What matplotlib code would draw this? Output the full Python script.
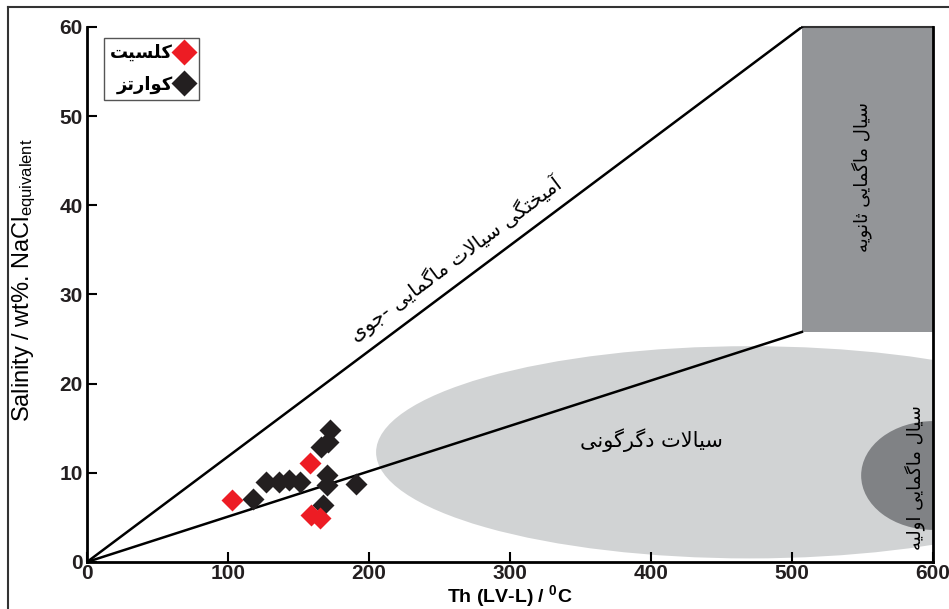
# -*- coding: utf-8 -*-
"""
fluid inclusion diagram: salinity vs homogenisation temperature
"""
import matplotlib
matplotlib.use('Agg')
import matplotlib.pyplot as plt
from matplotlib.patches import Rectangle, Ellipse
from matplotlib.lines import Line2D

plt.rcParams['font.family'] = ['Liberation Sans', 'DejaVu Sans']

# data
calcite_th = [103, 158, 159, 165]
calcite_sal = [7.0, 11.1, 5.3, 4.9]
quartz_th = [118, 127, 136, 143, 151, 166, 171, 172, 170, 170, 191, 167]
quartz_sal = [7.1, 9.0, 9.0, 9.2, 9.0, 12.9, 13.5, 14.8, 9.8, 8.6, 8.8, 6.4]

x_ticks = [0, 100, 200, 300, 400, 500, 600]
y_ticks = [0, 10, 20, 30, 40, 50, 60]

# field boundaries
upper_line = ([0, 507], [0, 60])
lower_line = ([0, 507], [0, 25.8])
secondary_box = (507, 25.8, 93, 34.2)          # x, y, width, height
metamorphic_field = (470, 12.3, 530, 23.8)     # centre x, centre y, width, height
primary_field = (600, 9.7, 102, 12.2)

label_calcite = 'کلسیت'
label_quartz = 'کوارتز'
label_mixing = 'آمیختگی سیالات ماگمایی -جوی'
label_meta = 'سیالات دگرگونی'
label_secondary = 'سیال ماگمایی ثانویه'
label_primary = 'سیال ماگمایی اولیه'

# --- tiny persian shaper (matplotlib does no arabic shaping / bidi) ---
forms = {
    'ا': ('\uFE8D', '\uFE8E'), 'آ': ('\uFE81', '\uFE82'),
    'د': ('\uFEA9', '\uFEAA'), 'ر': ('\uFEAD', '\uFEAE'),
    'ز': ('\uFEAF', '\uFEB0'), 'و': ('\uFEED', '\uFEEE'),
    'ت': ('\uFE95', '\uFE96', '\uFE97', '\uFE98'),
    'ث': ('\uFE99', '\uFE9A', '\uFE9B', '\uFE9C'),
    'ج': ('\uFE9D', '\uFE9E', '\uFE9F', '\uFEA0'),
    'خ': ('\uFEA5', '\uFEA6', '\uFEA7', '\uFEA8'),
    'س': ('\uFEB1', '\uFEB2', '\uFEB3', '\uFEB4'),
    'ل': ('\uFEDD', '\uFEDE', '\uFEDF', '\uFEE0'),
    'م': ('\uFEE1', '\uFEE2', '\uFEE3', '\uFEE4'),
    'ن': ('\uFEE5', '\uFEE6', '\uFEE7', '\uFEE8'),
    'ه': ('\uFEE9', '\uFEEA', '\uFEEB', '\uFEEC'),
    'ی': ('\uFBFC', '\uFBFD', '\uFBFE', '\uFBFF'),
    'ک': ('\uFB8E', '\uFB8F', '\uFB90', '\uFB91'),
    'گ': ('\uFB92', '\uFB93', '\uFB94', '\uFB95'),
    'لا': ('\uFEFB', '\uFEFC'), 'لآ': ('\uFEF5', '\uFEF6'),
}

def fa(s):
    items = []
    i = 0
    while i < len(s):
        if s[i] == 'ل' and i + 1 < len(s) and s[i + 1] in 'اآ':
            items.append(s[i:i + 2])
            i += 2
        else:
            items.append(s[i])
            i += 1
    out = []
    for k, c in enumerate(items):
        if c not in forms:
            out.append(c)
            continue
        f = forms[c]
        prev = items[k - 1] if k > 0 else None
        nxt = items[k + 1] if k + 1 < len(items) else None
        jp = prev in forms and len(forms[prev]) == 4
        jn = len(f) == 4 and nxt in forms
        if jp and jn:
            out.append(f[3])
        elif jn:
            out.append(f[2])
        elif jp:
            out.append(f[1])
        else:
            out.append(f[0])
    return ''.join(reversed(out))

# new figure
fig = plt.figure(figsize=(9.49, 6.09), dpi=100)
ax = fig.add_axes([0.0917, 0.0772, 0.8915, 0.8785])

ax.add_patch(Ellipse(metamorphic_field[:2], metamorphic_field[2], metamorphic_field[3],
                     facecolor='#d1d3d4', edgecolor='none', zorder=1))
ax.add_patch(Ellipse(primary_field[:2], primary_field[2], primary_field[3],
                     facecolor='#808285', edgecolor='none', zorder=1.5))
ax.add_patch(Rectangle(secondary_box[:2], secondary_box[2], secondary_box[3],
                       facecolor='#939598', edgecolor='none', zorder=1))
ax.plot([secondary_box[0], 600], [60, 60], color='#333333', lw=1.5, zorder=2, clip_on=False)

ax.plot(*upper_line, color='black', lw=1.8, zorder=2)
ax.plot(*lower_line, color='black', lw=1.8, zorder=2)

ax.plot(quartz_th, quartz_sal, 'D', color='#231f20', ms=11.5, mec='none', zorder=3)
ax.plot(calcite_th, calcite_sal, 'D', color='#ed1c24', ms=11.5, mec='none', zorder=3)

ax.text(261.7, 33.9, fa(label_mixing), family='DejaVu Sans', fontsize=14.3,
        rotation=36.8, ha='center', va='center')
ax.text(400, 13.7, fa(label_meta), family='DejaVu Sans', fontsize=15,
        ha='center', va='center')
ax.text(549.6, 43.2, fa(label_secondary), family='DejaVu Sans', fontsize=13,
        rotation=90, ha='center', va='center')
ax.text(587, 9.5, fa(label_primary), family='DejaVu Sans', fontsize=13,
        rotation=90, ha='center', va='center')

handles = [Line2D([], [], ls='none', marker='D', color='#ed1c24', ms=13, mec='none'),
           Line2D([], [], ls='none', marker='D', color='#231f20', ms=13, mec='none')]
leg = ax.legend(handles, [fa(label_calcite), fa(label_quartz)], loc='upper left',
                bbox_to_anchor=(0.02, 0.98), markerfirst=False, fancybox=False,
                edgecolor='#555555', framealpha=1, handlelength=1.0, handletextpad=0.1,
                borderpad=0.35, labelspacing=0.75, borderaxespad=0,
                prop={'family': 'DejaVu Sans', 'size': 13, 'weight': 'bold'})
leg.get_frame().set_linewidth(1.0)

ax.set_xlim(0, 600)
ax.set_ylim(0, 60)
ax.set_xticks(x_ticks)
ax.set_yticks(y_ticks)
ax.spines['top'].set_visible(False)
for s in ['left', 'bottom', 'right']:
    ax.spines[s].set_linewidth(2.0)
ax.tick_params(direction='in', length=7, width=1.5, labelsize=15, pad=3)
ax.tick_params(axis='x', pad=1.5)
for t in ax.get_xticklabels() + ax.get_yticklabels():
    t.set_fontweight('bold')
    t.set_color('#231f20')

ax.set_xlabel(r'Th (LV-L) / $\mathregular{^{0}}$C', fontsize=14, fontweight='bold', labelpad=0)
ax.set_ylabel(r'Salinity / wt%. NaCl$\mathregular{_{equivalent}}$', fontsize=17)
ax.yaxis.set_label_coords(-0.058, 0.527)

# outer frame of the figure
fig.add_artist(Line2D([8 / 949, 8 / 949], [0, 1 - 7 / 609], color='#333333', lw=1.5))
fig.add_artist(Line2D([8 / 949, 1], [1 - 7 / 609, 1 - 7 / 609], color='#333333', lw=1.5))

fig.savefig('out.png', dpi=100)
